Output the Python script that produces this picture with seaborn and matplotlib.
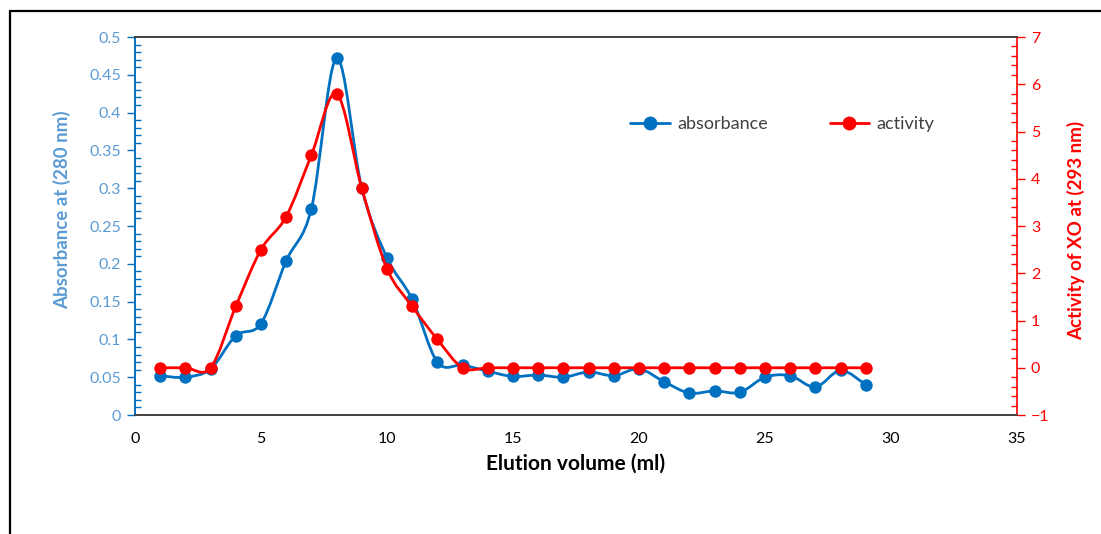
import numpy as np
import pandas as pd
import matplotlib
matplotlib.use("Agg")
import matplotlib.pyplot as plt
from matplotlib.path import Path
from matplotlib.patches import PathPatch
from matplotlib.lines import Line2D
from matplotlib.ticker import MultipleLocator, FuncFormatter
import seaborn as sns

# Fractions collected from the column
elution_ml = [1, 2, 3, 4, 5, 6, 7, 8, 9, 10, 11, 12, 13, 14, 15,
              16, 17, 18, 19, 20, 21, 22, 23, 24, 25, 26, 27, 28, 29]
absorbance_280 = [0.052, 0.050, 0.061, 0.105, 0.121, 0.204, 0.273, 0.472, 0.300,
                  0.208, 0.153, 0.070, 0.066, 0.058, 0.051, 0.053, 0.050, 0.057,
                  0.052, 0.061, 0.044, 0.029, 0.032, 0.030, 0.050, 0.052, 0.037,
                  0.059, 0.040]
activity_xo = [0, 0, 0, 1.3, 2.5, 3.2, 4.5, 5.8, 3.8, 2.1, 1.3, 0.6, 0,
               0, 0, 0, 0, 0, 0, 0, 0, 0, 0, 0, 0, 0, 0, 0, 0]

df = pd.DataFrame({"volume": elution_ml,
                   "absorbance": absorbance_280,
                   "activity": activity_xo})

BLUE = "#0070C0"
LIGHT_BLUE = "#5B9BD5"
RED = "#FF0000"

sns.set_theme(style="white")
plt.rcParams["font.family"] = ["Lato", "DejaVu Sans"]


def smooth_path(xs, ys):
    """Catmull-Rom curve through the points, expressed as cubic Beziers."""
    xs = np.asarray(xs, float)
    ys = np.asarray(ys, float)
    pts = np.column_stack([xs, ys])
    n = len(pts)
    verts = [pts[0]]
    codes = [Path.MOVETO]
    for i in range(n - 1):
        p0 = pts[i - 1] if i > 0 else pts[i]
        p1 = pts[i]
        p2 = pts[i + 1]
        p3 = pts[i + 2] if i + 2 < n else pts[i + 1]
        c1 = p1 + (p2 - p0) / 6.0
        c2 = p2 - (p3 - p1) / 6.0
        verts += [c1, c2, p2]
        codes += [Path.CURVE4] * 3
    return Path(verts, codes)


fig = plt.figure(figsize=(11.01, 5.34), dpi=100)
ax = fig.add_axes([0.1226, 0.2228, 0.8011, 0.7079])
ax2 = ax.twinx()

# Absorbance (left axis)
ax.add_patch(PathPatch(smooth_path(df["volume"], df["absorbance"]),
                       facecolor="none", edgecolor=BLUE, lw=2.0, zorder=2))
sns.scatterplot(data=df, x="volume", y="absorbance", ax=ax, color=BLUE,
                s=80, edgecolor=BLUE, linewidth=0, zorder=3, legend=False)

# Xanthine oxidase activity (right axis)
ax2.add_patch(PathPatch(smooth_path(df["volume"], df["activity"]),
                        facecolor="none", edgecolor=RED, lw=2.0, zorder=2))
sns.scatterplot(data=df, x="volume", y="activity", ax=ax2, color=RED,
                s=80, edgecolor=RED, linewidth=0, zorder=3, legend=False)

ax.set_xlim(0, 35)
ax.set_ylim(0, 0.5)
ax2.set_ylim(-1, 7)

ax.xaxis.set_major_locator(MultipleLocator(5))
ax.yaxis.set_major_locator(MultipleLocator(0.05))
ax.yaxis.set_minor_locator(MultipleLocator(0.01))
ax2.yaxis.set_major_locator(MultipleLocator(1))
ax2.yaxis.set_minor_locator(MultipleLocator(0.2))

ax.yaxis.set_major_formatter(FuncFormatter(lambda v, p: f"{v:.2f}".rstrip("0").rstrip(".") if v else "0"))

ax.tick_params(axis="x", which="major", direction="out", length=6, width=1,
               color="#404040", labelsize=11.5, labelcolor="#000000", pad=6)
ax.tick_params(axis="y", which="major", direction="out", length=6, width=1,
               color=BLUE, labelsize=11.5, labelcolor=LIGHT_BLUE, pad=4)
ax.tick_params(axis="y", which="minor", direction="in", length=4, width=1,
               color=BLUE, left=True)
ax2.tick_params(axis="y", which="major", direction="out", length=6, width=1,
                color=RED, labelsize=11.5, labelcolor=RED, pad=4)
ax2.tick_params(axis="y", which="minor", direction="in", length=4, width=1,
                color=RED, right=True)

for a in (ax, ax2):
    a.spines["top"].set_color("#404040")
    a.spines["bottom"].set_color("#404040")
    a.spines["left"].set_color(BLUE)
    a.spines["right"].set_color(RED)
    for s in a.spines.values():
        s.set_linewidth(1.2)
ax.spines["right"].set_visible(False)

ax.set_xlabel("Elution volume (ml)", fontsize=15, fontweight="bold",
              color="#000000", labelpad=6)
ax.set_ylabel("Absorbance at (280 nm)", fontsize=13.5, fontweight="bold",
              color=LIGHT_BLUE)
ax2.set_ylabel("Activity of XO at (293 nm)", fontsize=13.5, fontweight="bold",
               color=RED)
ax.yaxis.set_label_coords(-0.0825, 0.542)
ax.yaxis.label.set_verticalalignment("center")
ax2.yaxis.set_label_coords(1.0665, 0.487)
ax2.yaxis.label.set_verticalalignment("center")
ax.grid(False)
ax2.grid(False)

handles = [
    Line2D([], [], color=BLUE, lw=2.0, marker="o", markersize=9),
    Line2D([], [], color=RED, lw=2.0, marker="o", markersize=9),
]
ax.legend(handles, ["absorbance", "activity"], loc="center",
          bbox_to_anchor=(0.734, 0.77), ncol=2, frameon=False, fontsize=13,
          handlelength=2.2, handletextpad=0.4, columnspacing=3.4,
          labelcolor="#404040")

# Outer frame along the top and left edges
fig.add_artist(Line2D([0.0095, 0.0095], [0.0, 0.979], transform=fig.transFigure,
                      color="black", lw=1.6))
fig.add_artist(Line2D([0.0095, 1.0], [0.979, 0.979], transform=fig.transFigure,
                      color="black", lw=1.6))

fig.savefig("out.png", dpi=100)
